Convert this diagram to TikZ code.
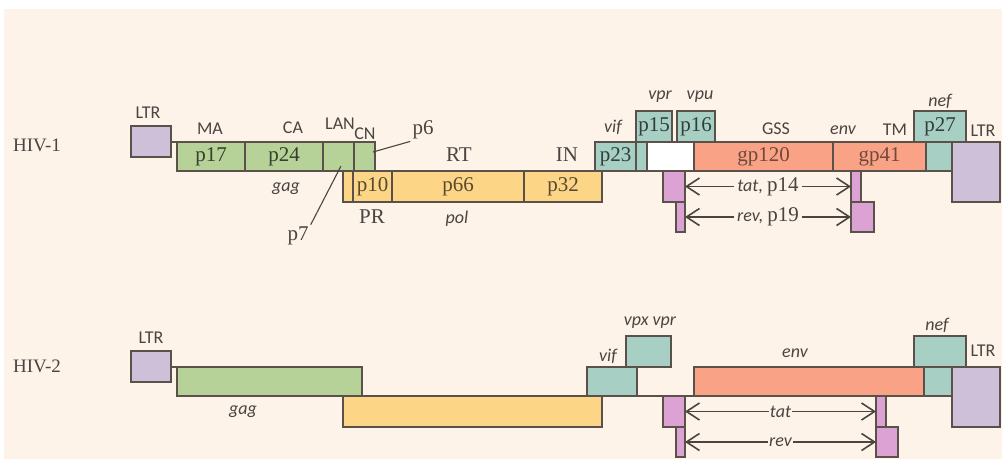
\documentclass[tikz,border=0pt]{standalone}
\usepackage{fontspec}
\setmainfont{Liberation Serif}
\newfontfamily\calibri{Carlito}
\usetikzlibrary{arrows.meta}

\definecolor{bg}{HTML}{FDF3E9}
\definecolor{edge}{HTML}{5A524A}
\definecolor{ink}{HTML}{4A4540}
\definecolor{gagc}{HTML}{B6D298}
\definecolor{polc}{HTML}{FDD586}
\definecolor{envc}{HTML}{F9A285}
\definecolor{accc}{HTML}{A7CFC4}
\definecolor{ltrc}{HTML}{CEC0D8}
\definecolor{tatc}{HTML}{DDA2D4}

\begin{document}
\begin{tikzpicture}[x=1pt, y=-1pt,
  seg/.style={draw=edge, line width=1.4pt, inner sep=0pt, outer sep=0pt, anchor=north west, font=\fontsize{21}{21}\selectfont},
  wh/.style 2 args={minimum width=#1pt, minimum height=#2pt},
  gagbox/.style={seg, fill=gagc, text=gagc!30!black},
  polbox/.style={seg, fill=polc, text=polc!35!black},
  envbox/.style={seg, fill=envc, text=envc!45!black},
  accbox/.style={seg, fill=accc, text=accc!30!black},
  ltrbox/.style={seg, fill=ltrc},
  tatbox/.style={seg, fill=tatc},
  lab/.style={font=\calibri\fontsize{18}{18}\selectfont, text=ink, inner sep=1pt},
  gene/.style={font=\calibri\itshape\fontsize{18}{18}\selectfont, text=ink, inner sep=1pt},
  sl/.style={font=\fontsize{21}{21}\selectfont, text=ink, inner sep=2pt},
  virus/.style={font=\fontsize{19}{19}\selectfont, text=ink},
  link/.style={draw=edge, line width=1.4pt},
  lead/.style={draw=ink, line width=1.1pt},
  extent/.style={draw=ink, line width=1.6pt, {Straight Barb[length=13pt,width=17pt]}-{Straight Barb[length=13pt,width=17pt]}}
]
\useasboundingbox (0,0) rectangle (1002,459);
\fill[white] (0,0) rectangle (1002,459);
\fill[bg] (4,9) rectangle (1002,459);

% HIV-1
\node[virus] (hiv1) at (37,145) {HIV-1};
\node[ltrbox, wh={40}{31}] (ltr1a) at (131,126) {};
\node[gagbox, wh={68}{29}] (p17) at (177,142) {p17};
\node[gagbox, wh={78}{29}] (p24) at (245,142) {p24};
\node[gagbox, wh={31}{29}] (lan) at (323,142) {};
\node[gagbox, wh={21}{29}] (cn) at (354,142) {};
\node[polbox, wh={10}{31}] (pr) at (343,171) {};
\node[polbox, wh={39}{31}] (p10) at (353,171) {p10};
\node[polbox, wh={132}{31}] (p66) at (392,171) {p66};
\node[polbox, wh={78}{31}] (p32) at (524,171) {p32};
\node[accbox, wh={41}{29}] (p23) at (595,142) {p23};
\node[accbox, wh={11}{29}] (vprlow) at (636,142) {};
\node[accbox, wh={36}{31}] (p15) at (636,111) {p15};
\node[seg, fill=white, wh={47}{29}] (gap1) at (647,142) {};
\node[accbox, wh={38}{31}] (p16) at (677,111) {p16};
\node[envbox, wh={139}{29}] (gp120) at (694,142) {gp120};
\node[envbox, wh={93}{29}] (gp41) at (833,142) {gp41};
\node[accbox, wh={26}{29}] (neflow1) at (926,142) {};
\node[accbox, wh={52}{31}] (p27) at (914,111) {p27};
\node[ltrbox, wh={48}{60}] (ltr1b) at (952,142) {};
\node[tatbox, wh={22}{31}] (tat1a) at (663,171) {};
\node[tatbox, wh={9}{30}] (rev1a) at (676,202) {};
\node[tatbox, wh={10}{31}] (tat1b) at (851,171) {};
\node[tatbox, wh={23}{30}] (rev1b) at (851,202) {};

\draw[link] (p17.north west) -- (ltr1a.east |- p17.north west);

\node[lab] at (148,113) {LTR};
\node[lab] at (210,129) {MA};
\node[lab] at (293,128) {CA};
\node[lab] at (340,124) {LAN};
\node[lab] at (365,134) {CN};
\node[sl] at (459,155) {RT};
\node[sl] at (567,155) {IN};
\node[gene] at (613,127) {vif};
\node[gene] at (660,97) {vpr};
\node[gene] at (700,97) {vpu};
\node[lab] at (776,129) {GSS};
\node[gene] at (843,130) {env};
\node[lab] at (895,130) {TM};
\node[gene] at (940,101) {nef};
\node[lab] at (983,131) {LTR};
\node[gene] at (286,189) {gag};
\node[sl] at (372,217) {PR};
\node[gene] at (457,219) {pol};

\node[sl] (p6lab) at (423,130) {p6};
\coordinate (c6) at (373,152);
\draw[lead] (c6) -- (p6lab.south west);
\node[sl] (p7lab) at (298,236) {p7};
\coordinate (c7) at (341,166);
\draw[lead] (c7) -- (p7lab.north east);

\draw[extent] (tat1a.east) -- node[fill=bg, inner sep=3pt, text=ink] {\calibri\itshape\fontsize{18}{18}\selectfont tat,\ \rmfamily\upshape\fontsize{21}{21}\selectfont p14} (tat1b.west);
\draw[extent] (rev1a.east) -- node[fill=bg, inner sep=3pt, text=ink] {\calibri\itshape\fontsize{18}{18}\selectfont rev,\ \rmfamily\upshape\fontsize{21}{21}\selectfont p19} (rev1b.west);

% HIV-2
\node[virus] (hiv2) at (37,366) {HIV-2};
\node[ltrbox, wh={40}{31}] (ltr2a) at (131,351) {};
\node[gagbox, wh={185}{29}] (gag2) at (177,367) {};
\node[polbox, wh={259}{31}] (pol2) at (343,396) {};
\node[accbox, wh={50}{29}] (vif2) at (587,367) {};
\node[accbox, wh={45}{31}] (vpx2) at (626,336) {};
\node[envbox, wh={230}{29}] (env2) at (694,367) {};
\node[accbox, wh={28}{29}] (neflow2) at (924,367) {};
\node[accbox, wh={52}{31}] (nef2) at (914,336) {};
\node[ltrbox, wh={48}{60}] (ltr2b) at (952,367) {};
\node[tatbox, wh={22}{31}] (tat2a) at (663,396) {};
\node[tatbox, wh={9}{30}] (rev2a) at (676,427) {};
\node[tatbox, wh={10}{31}] (tat2b) at (876,396) {};
\node[tatbox, wh={22}{30}] (rev2b) at (876,427) {};

\draw[link] (gag2.north west) -- (ltr2a.east |- gag2.north west);
\draw[link] (vif2.south east) -- (env2.south west);

\node[lab] at (151,338) {LTR};
\node[gene] at (243,412) {gag};
\node[gene] at (650,323) {vpx vpr};
\node[gene] at (608,356) {vif};
\node[gene] at (795,353) {env};
\node[gene] at (937,325) {nef};
\node[lab] at (983,351) {LTR};

\draw[extent] (tat2a.east) -- node[fill=bg, inner sep=3pt, gene] {tat} (tat2b.west);
\draw[extent] (rev2a.east) -- node[fill=bg, inner sep=3pt, gene] {rev} (rev2b.west);
\end{tikzpicture}
\end{document}
